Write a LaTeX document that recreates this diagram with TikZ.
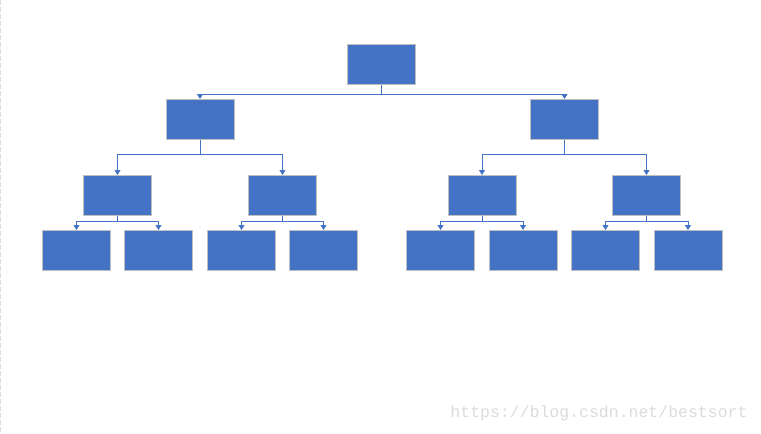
\documentclass[tikz,border=0pt]{standalone}
\usepackage{fontspec}
\newfontfamily\wmfont{Liberation Mono}
\usetikzlibrary{arrows.meta}
\definecolor{boxblue}{HTML}{4472C4}
\definecolor{boxedge}{HTML}{BFBFBF}
\definecolor{wm}{HTML}{DCDCDC}
\tikzset{
  box/.style={draw=boxedge, line width=1pt, fill=boxblue, minimum width=68pt, minimum height=40pt, inner sep=0pt},
  conn/.style={draw=boxblue, line width=1pt, -{Triangle[width=6pt,length=5pt]}}
}
\begin{document}
\begin{tikzpicture}[x=1pt,y=-1pt]
\useasboundingbox (0,0) rectangle (761,434);
\fill[white] (0,0) rectangle (761,434);
\draw[color=wm, line width=1pt, dash pattern=on 5pt off 2pt] (0.5,0) -- (0.5,434);
% root
\node[box] (r) at (381.5,64.5) {};
% level 1
\node[box] (a) at (200,119.5) {};
\node[box] (b) at (564.5,119.5) {};
% level 2
\node[box] (aa) at (117.5,195.5) {};
\node[box] (ab) at (282.5,195.5) {};
\node[box] (ba) at (482,195.5) {};
\node[box] (bb) at (646.5,195.5) {};
% level 3
\node[box] (aaa) at (76.5,250.5) {};
\node[box] (aab) at (158.5,250.5) {};
\node[box] (aba) at (241.5,250.5) {};
\node[box] (abb) at (323.5,250.5) {};
\node[box] (baa) at (440.5,250.5) {};
\node[box] (bab) at (523,250.5) {};
\node[box] (bba) at (605.5,250.5) {};
\node[box] (bbb) at (688,250.5) {};
% connectors
\foreach \c in {a,b}{\draw[conn] (r.south) -- ++(0,9) -| (\c.north);}
\foreach \c in {aa,ab}{\draw[conn] (a.south) -- ++(0,14) -| (\c.north);}
\foreach \c in {ba,bb}{\draw[conn] (b.south) -- ++(0,14) -| (\c.north);}
\foreach \p in {aa,ab,ba,bb}{
  \draw[conn] (\p.south) -- ++(0,5) -| (\p a.north);
  \draw[conn] (\p.south) -- ++(0,5) -| (\p b.north);
}
\node[text=wm, font=\wmfont\fontsize{16.5pt}{18pt}\selectfont, anchor=center] (w) at (599,413) {https://blog.csdn.net/bestsort};
\end{tikzpicture}
\end{document}
